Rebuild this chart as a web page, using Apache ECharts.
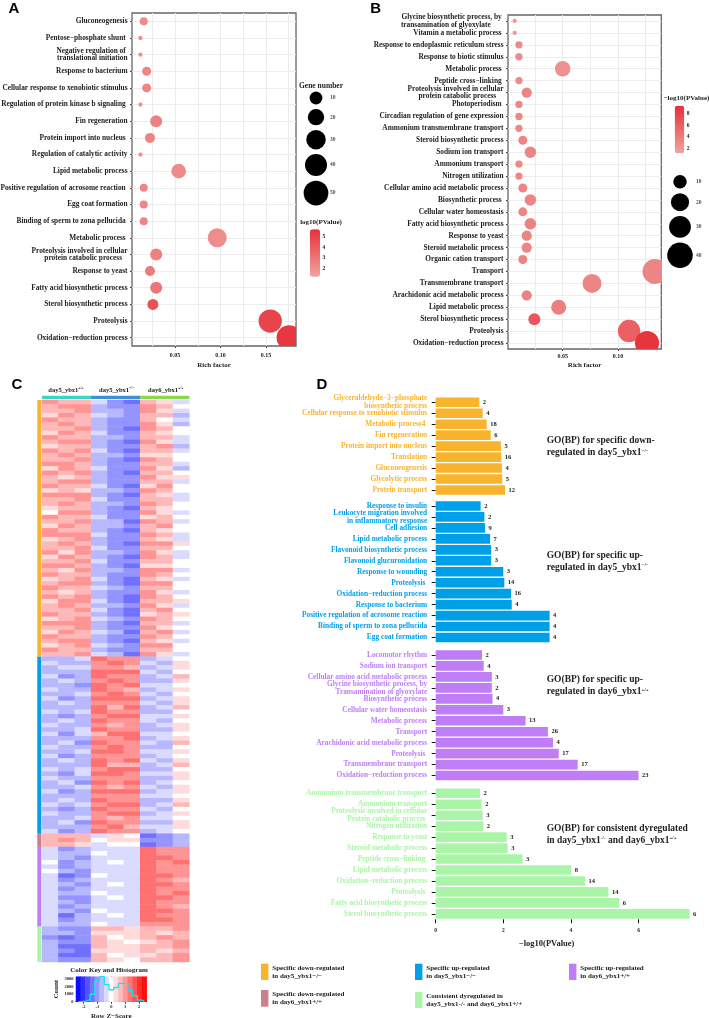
<!DOCTYPE html>
<html><head><meta charset="utf-8">
<style>html,body{margin:0;padding:0;background:#fff}#c{width:709px;height:1018px;filter:blur(.35px)}</style>
<script src="https://cdn.jsdelivr.net/npm/echarts@6/dist/echarts.min.js"></script>
</head><body><div id="c"></div>
<script>
// ---------- Panel A ----------
const categoriesA = ["Gluconeogenesis","Pentose−phosphate shunt ","Negative regulation of \ntranslational initiation","Response to bacterium","Cellular response to xenobiotic stimulus","Regulation of protein kinase b signaling ","Fin regeneration","Protein import into nucleus ","Regulation of catalytic activity","Lipid metabolic process","Positive regulation of acrosome reaction ","Egg coat formation","Binding of sperm to zona pellucida ","Metabolic process ","Proteolysis involved in cellular\nprotein catabolic process   ","Response to yeast","Fatty acid biosynthetic process","Sterol biosynthetic process","Proteolysis","Oxidation−reduction process"];
const richA = [0.0156,0.012,0.012,0.0188,0.0188,0.012,0.0293,0.0225,0.012,0.054,0.0156,0.0156,0.0156,0.0964,0.0293,0.0225,0.0293,0.0257,0.1547,0.1754];
const genesA = [4,3,3,5,5,3,8,6,3,15,4,4,4,28,8,6,8,7,45,51];
const logpA = [2.2,2.0,2.0,2.4,2.4,2.1,2.6,2.5,2.1,2.2,2.4,2.4,2.4,2.1,2.6,2.8,3.0,4.4,4.9,5.4];
const legendGenesA = [10,20,30,40,50];
const richTicks = [0.05,0.10,0.15];
const richMinorA = [0.025,0.05,0.075,0.10,0.125,0.15,0.175];
// ---------- Panel B ----------
const categoriesB = ["Glycine biosynthetic process, by \ntransamination of glyoxylate       ","Vitamin a metabolic process ","Response to endoplasmic reticulum stress","Response to biotic stimulus","Metabolic process ","Peptide cross−linking ","Proteolysis involved in cellular\nprotein catabolic process    ","Photoperiodism ","Circadian regulation of gene expression","Ammonium transmembrane transport","Steroid biosynthetic process","Sodium ion transport","Ammonium transport","Nitrogen utilization","Cellular amino acid metabolic process","Biosynthetic process ","Cellular water homeostasis","Fatty acid biosynthetic process","Response to yeast","Steroid metabolic process","Organic cation transport","Transport","Transmembrane transport","Arachidonic acid metabolic process","Lipid metabolic process","Sterol biosynthetic process","Proteolysis","Oxidation−reduction process"];
const richB = [0.0066,0.0066,0.0105,0.0105,0.05,0.0105,0.0175,0.0105,0.0105,0.0105,0.014,0.0208,0.0105,0.0105,0.014,0.0208,0.014,0.0208,0.0175,0.0175,0.014,0.1334,0.0765,0.0175,0.0464,0.0244,0.11,0.1262];
const genesB = [2,2,3,3,14,3,5,3,3,3,4,6,3,3,4,6,4,6,5,5,4,38,22,5,13,7,32,36];
const logpB = [2.2,2.0,3.0,3.0,2.6,3.0,3.4,3.2,3.2,3.2,3.4,3.4,3.2,3.2,3.4,3.4,3.4,3.6,3.4,3.4,3.6,3.4,3.4,3.6,3.8,6.6,6.0,9.0];
const legendGenesB = [10,20,30,40];
const richMinorB = [0.025,0.05,0.075,0.10,0.125];
// ---------- Panel C (one digit per cell: 0 deep blue, 5 white, 9 strong red) ----------
const sampleLabels = ["day5_ybx1","day5_ybx1","day6_ybx1"];
const sampleSup = ["+/+","−/−","+/+"];
const heatOrange = ["877421764","788322875","778332864","687432773","877322754","787322863","778321875","687422765","877332774","788321864","677322783","878421774","787332665","778321875","887322774","687422863","878321775","767322866","788322774","877421685","676332875","888321764","778422774","787332875","677321765","588322864","877422675","778331874","687332785","877321765","888422874","678322764","787321886","778422775","868332864","687321874","778422775","887321665","768332884","877322875","678421764","788321885","877432775","767322864","878321875","688421776","787332864","778421785","877321676","678432875","888321774","778322865","687431784","877322875","788321764","678432885","877322775","778431864"];
const heatBlue = ["334988345","433898436","344887346","333999435","423988347","343898336","332989445","433987346","334898435","423999346","343888436","333979347","434988335","323899446","343988435","433878346","334988336","424799445","333889346","342988437","433898335","334998446","423888345","343989436","333977347","434899335","324998446","433888336","342989345","334878436","423999346","333888445","343988336","434899347","323988435","433899346","334878445","342988336","333897446","423988345"];
const heatRose = ["777465123","787566223","776455123"];
const heatPurple = ["423444988","433544988","432444998","523454989","423444988","532444988","412544998","423444987","432454998","423444988","433544989","422454998","432444988","423444987","432544998","413454988","423444998","433544888"];
const heatGreen = ["322776778","332666767","212756787","322765678","311766778","321666767","311756678","322765778"];
const keyBins = [-2.38,-2.04,-1.7,-1.36,-1.02,-0.68,-0.34,0,0.34,0.68,1.02,1.36,1.7,2.04,2.38];
const keyCounts = [0,30,200,1000,2800,3350,2300,1600,1900,2450,2450,1500,800,200,50];
const keyXTicks = [-2,-1,0,1,2];
const keyYTicks = [0,1000,2000,3000];
const groupNames = ["Specific down-regulated\nin day5_ybx1−/−","Specific up-regulated\nin day5_ybx1−/−","Specific down-regulated\nin day6_ybx1+/+","Specific up-regulated\nin day6_ybx1+/+","Consistent dyregulated in\nday5_ybx1-/- and day6_ybx1+/+"];
// ---------- Panel D ----------
const labelsD1 = ["Glyceraldehyde−3−phosphate\nbiosynthetic process","Cellular response to xenobiotic stimulus","Metabolic process4 ","Fin regeneration","Protein import into nucleus","Translation","Gluconeogenesis","Glycolytic process","Protein transport"];
const valuesD1 = [1.29,1.39,1.51,1.63,1.93,1.94,1.96,1.97,2.05];
const countsD1 = [2,4,18,6,5,16,4,5,12];
const labelsD2 = ["Response to insulin","Leukocyte migration involved\nin inflammatory response","Cell adhesion","Lipid metabolic process","Flavonoid biosynthetic process","Flavonoid glucuronidation","Response to wounding","Proteolysis ","Oxidation−reduction process","Response to bacterium","Positive regulation of acrosome reaction","Binding of sperm to zona pellucida","Egg coat formation"];
const valuesD2 = [1.33,1.44,1.46,1.61,1.64,1.64,2.0,2.03,2.23,2.25,3.37,3.37,3.37];
const countsD2 = [2,2,9,7,3,3,3,14,16,4,4,4,4];
const labelsD3 = ["Locomotor rhythm","Sodium ion transport","Cellular amino acid metabolic process","Glycine biosynthetic process, by\nTransamination of glyoxylate","Biosynthetic process","Cellular water homeostasis","Metabolic process","Transport","Arachidonic acid metabolic process","Proteolysis ","Transmembrane transport","Oxidation−reduction process"];
const valuesD3 = [1.37,1.42,1.66,1.66,1.68,2.0,2.66,3.32,3.47,3.64,4.2,6.0];
const countsD3 = [2,4,3,2,4,3,13,26,4,17,17,23];
const labelsD4 = ["Ammonium transmembrane transport","Ammonium transport","Proteolysis involved in cellular\nProtein catabolic process ","Nitrogen utilization","Response to yeast","Steroid metabolic process","Peptide cross−linking ","Lipid metabolic process","Oxidation−reduction process","Proteolysis ","Fatty acid biosynthetic process","Sterol biosynthetic process"];
const valuesD4 = [1.31,1.36,1.39,1.41,2.10,2.13,2.57,4.01,4.42,5.11,5.43,7.51];
const countsD4 = [2,2,3,2,3,3,3,8,14,14,6,6];
const ticksD = [0,2,4,6];

// ---------- styling ----------
const SERIF = '"Liberation Serif","Times New Roman",serif';
const SANS = '"Liberation Sans",Arial,sans-serif';
const INK = '#222';
const ORANGE='#F9B42D', BLUE='#00A0E9', PURPLE='#BF7DF6', GREEN='#ABF5A8', ROSE='#C9808C';
const LOW='#EFA5A1', HIGH='#E72F38';
const LABEL_SIZE=7.35;
const sizeStopsA = [[3,4.3],[4,8],[6,10],[8,12],[15,14.7],[28,19],[45,23.3],[51,25]];
const sizeStopsB = [[2,4.3],[3,7.3],[4,9],[6,11.5],[14,15.5],[22,19],[32,22.5],[38,25],[40,25.5]];
function sizeOf(stops,g){
  for(let i=1;i<stops.length;i++){
    if(g<=stops[i][0]){const a=stops[i-1],b=stops[i];return a[1]+(b[1]-a[1])*(g-a[0])/(b[0]-a[0]);}
  }
  return stops[stops.length-1][1];
}
const grid=[],xAxis=[],yAxis=[],series=[],visualMap=[],graphic=[];
function addGrid(l,t,w,h,extra){grid.push(Object.assign({left:l,top:t,width:w,height:h,containLabel:false,outerBoundsMode:'none'},extra||{}));return grid.length-1;}
function text(s,x,y,size,opt){
  opt=opt||{};
  graphic.push({type:'text',x:x,y:y,z:50,silent:true,style:{text:s,fill:opt.color||INK,fontFamily:opt.family||SERIF,fontWeight:'bold',fontSize:size,align:opt.align||'left',verticalAlign:opt.va||'middle',lineHeight:opt.lh,rich:opt.rich}});
}
function rect(x,y,w,h,c){graphic.push({type:'rect',z:50,silent:true,shape:{x:x,y:y,width:w,height:h},style:{fill:c}});}

function bubblePanel(cfg){
  const g=addGrid(cfg.l,cfg.t,cfg.w,cfg.h,{show:true,backgroundColor:'#fff',borderColor:'#666',borderWidth:1.3});
  const ax=xAxis.length;
  xAxis.push({gridIndex:g,type:'value',min:cfg.xmin,max:cfg.xmax,axisLine:{show:false},axisLabel:{show:false},
    axisTick:{show:false,customValues:cfg.minor},splitLine:{show:true,lineStyle:{color:'#ECECEC',width:1}}});
  xAxis.push({gridIndex:g,type:'value',position:'bottom',min:cfg.xmin,max:cfg.xmax,axisLine:{show:false},
    axisTick:{show:true,length:2,customValues:richTicks,lineStyle:{color:'#444'}},
    axisLabel:{customValues:richTicks,formatter:v=>v.toFixed(2),fontSize:6,margin:cfg.lm,fontFamily:SERIF,fontWeight:'bold',color:INK},
    splitLine:{show:false},name:'Rich factor',nameLocation:'middle',nameGap:cfg.ng,nameTextStyle:{fontSize:7,fontFamily:SERIF,fontWeight:'bold',color:INK}});
  const ay=yAxis.length;
  yAxis.push({gridIndex:g,type:'category',inverse:true,data:cfg.cats,axisLine:{show:false},
    axisTick:{show:true,length:2,alignWithLabel:true,lineStyle:{color:'#444'}},
    splitLine:{show:true,alignWithLabel:true,lineStyle:{color:'#ECECEC',width:1.2}},
    axisLabel:{interval:0,fontSize:LABEL_SIZE,lineHeight:7.5,margin:4.5,fontFamily:SERIF,fontWeight:'bold',color:INK,hideOverlap:false}});
  const si=series.length;
  // custom series so that the bubbles are really clipped at the panel frame
  series.push({type:'custom',xAxisIndex:ax,yAxisIndex:ay,clip:true,z:3,silent:true,
    encode:{x:0,y:1},
    data:cfg.rich.map((r,i)=>[r,i,cfg.genes[i],cfg.logp[i]]),
    renderItem:function(params,api){
      const p=api.coord([api.value(0),api.value(1)]);
      return {type:'circle',shape:{cx:p[0],cy:p[1],r:sizeOf(cfg.stops,api.value(2))/2},style:{fill:api.visual('color')}};
    }});
  visualMap.push({type:'continuous',seriesIndex:si,dimension:3,min:cfg.pmin,max:cfg.pmax,inRange:{color:[LOW,HIGH]},
    left:cfg.bar[0],top:cfg.bar[1],itemWidth:cfg.bar[2],itemHeight:cfg.bar[3],padding:0,calculable:false,realtime:false,text:null,
    textStyle:{fontSize:1,color:'transparent'}});
  // colour-bar ticks
  const cg=addGrid(cfg.bar[0],cfg.bar[1],cfg.bar[2],cfg.bar[3]);
  xAxis.push({gridIndex:cg,type:'value',show:false,min:0,max:1});
  yAxis.push({gridIndex:cg,type:'value',position:'right',min:cfg.pmin,max:cfg.pmax,z:20,axisLine:{show:false},splitLine:{show:false},
    axisTick:{show:true,inside:true,length:2,customValues:cfg.barTicks,lineStyle:{color:'#fff',width:.8}},
    axisLabel:{customValues:cfg.barTicks,fontSize:5.5,margin:2.5,fontFamily:SERIF,fontWeight:'bold',color:INK}});
  series.push({type:'scatter',xAxisIndex:xAxis.length-1,yAxisIndex:yAxis.length-1,data:[],silent:true});
  // size legend: pixel-scaled hidden axes, spacing follows symbol sizes
  const ds=cfg.legend.map(v=>sizeOf(cfg.stops,v));
  const ys=[cfg.leg[1]];
  for(let i=1;i<ds.length;i++) ys.push(ys[i-1]+(ds[i-1]+ds[i])/2+cfg.leg[3]);
  const lg=addGrid(cfg.leg[0],0,60,1018);
  xAxis.push({gridIndex:lg,type:'value',show:false,min:0,max:60});
  yAxis.push({gridIndex:lg,type:'value',show:false,inverse:true,min:0,max:1018});
  series.push({type:'scatter',xAxisIndex:xAxis.length-1,yAxisIndex:yAxis.length-1,silent:true,
    data:cfg.legend.map((v,i)=>[15,ys[i],v]),symbolSize:v=>sizeOf(cfg.stops,v[2]),itemStyle:{color:'#000',opacity:1}});
  series.push({type:'scatter',xAxisIndex:xAxis.length-1,yAxisIndex:yAxis.length-1,silent:true,
    data:cfg.legend.map((v,i)=>[cfg.leg[2],ys[i],v]),symbolSize:0,
    label:{show:true,position:'right',distance:0,formatter:p=>p.data[2],fontSize:5.5,fontFamily:SERIF,fontWeight:'bold',color:INK}});
}

bubblePanel({l:132,t:13,w:164,h:333,xmin:0.0027,xmax:0.183,minor:richMinorA,lm:6,ng:16,cats:categoriesA,rich:richA,genes:genesA,logp:logpA,stops:sizeStopsA,
  pmin:1.2,pmax:5.7,bar:[310,229.3,10,47.4],barTicks:[2,3,4,5],legend:legendGenesA,leg:[301,98,29,4.6]});
bubblePanel({l:508,t:15,w:153.3,h:334,xmin:0.0006,xmax:0.1391,minor:richMinorB,lm:4,ng:13,cats:categoriesB,rich:richB,genes:genesB,logp:logpB,stops:sizeStopsB,
  pmin:1.2,pmax:9.4,bar:[674.7,105.7,9.6,47.6],barTicks:[2,4,6,8],legend:legendGenesB,leg:[665,181.7,31,4.7]});

text('Gene number',321,85.7,7.5,{align:'center'});
text('log10(PValue)',321,221.7,7,{align:'center'});
text('−log10(PValue)',686.5,98.3,7,{align:'center'});

// ---------- Panel C ----------
const heatBlocks=[heatOrange,heatBlue,heatRose,heatPurple,heatGreen];
const heatColors=[ORANGE,BLUE,ROSE,PURPLE,GREEN];
const heatRows=[].concat(...heatBlocks);
const heatData=[];
heatRows.forEach((row,r)=>{row.split('').forEach((d,c)=>{heatData.push([c,r,(+d-5)*0.35]);});});
const hg=addGrid(42,400,147.3,562);
xAxis.push({gridIndex:hg,type:'category',show:false,data:[0,1,2,3,4,5,6,7,8]});
yAxis.push({gridIndex:hg,type:'category',show:false,inverse:true,data:heatRows.map((_,i)=>i)});
const heatSi=series.length;
series.push({type:'heatmap',xAxisIndex:xAxis.length-1,yAxisIndex:yAxis.length-1,silent:true,data:heatData,itemStyle:{borderWidth:0}});
// column colour band
const tg=addGrid(42,395.7,147.3,3.4);
xAxis.push({gridIndex:tg,type:'value',show:false,min:0,max:3});
yAxis.push({gridIndex:tg,type:'category',show:false,data:['a']});
['#3DD3C6','#3F8FD8','#8BD84B'].forEach(c=>{
  series.push({type:'bar',stack:'top',xAxisIndex:xAxis.length-1,yAxisIndex:yAxis.length-1,barWidth:'100%',silent:true,data:[1],itemStyle:{color:c}});
});
// row group band
const lgr=addGrid(37.3,400,4,562);
xAxis.push({gridIndex:lgr,type:'category',show:false,data:['a']});
yAxis.push({gridIndex:lgr,type:'value',show:false,inverse:true,min:0,max:heatRows.length});
heatBlocks.forEach((b,i)=>{
  series.push({type:'bar',stack:'left',xAxisIndex:xAxis.length-1,yAxisIndex:yAxis.length-1,barWidth:'100%',silent:true,data:[b.length],itemStyle:{color:heatColors[i]}});
});
sampleLabels.forEach((s,i)=>{
  text('{n|'+s+'}{s|'+sampleSup[i]+'}',[66,116.7,165.7][i],390,6.5,{align:'center',rich:{n:{fontSize:6.5,fontFamily:SERIF,fontWeight:'bold',fill:INK},s:{fontSize:3.8,fontFamily:SERIF,fontWeight:'bold',fill:INK,verticalAlign:'top'}}});
});
// colour key
const kg=addGrid(76,976.7,70.7,25);
xAxis.push({gridIndex:kg,type:'category',show:false,data:keyBins});
yAxis.push({gridIndex:kg,type:'category',show:false,data:['k']});
const keySi=series.length;
series.push({type:'heatmap',xAxisIndex:xAxis.length-1,yAxisIndex:yAxis.length-1,silent:true,data:keyBins.map((z,i)=>[i,0,z]),itemStyle:{borderWidth:0}});
visualMap.push({type:'continuous',show:false,seriesIndex:[heatSi,keySi],dimension:2,min:-2.5,max:2.5,inRange:{color:['#0000ff','#ffffff','#ff0000']}});
const kg2=addGrid(76,976.7,70.7,25);
xAxis.push({gridIndex:kg2,type:'value',min:-2.55,max:2.55,axisLine:{show:true,lineStyle:{color:'#000',width:.8}},splitLine:{show:false},
  axisTick:{show:true,length:2,customValues:keyXTicks,lineStyle:{color:'#000',width:.8}},
  axisLabel:{customValues:keyXTicks,fontSize:4.5,margin:3,fontFamily:SERIF,fontWeight:'bold',color:INK},
  name:'Row Z−Score',nameLocation:'middle',nameGap:11,nameTextStyle:{fontSize:7,fontFamily:SERIF,fontWeight:'bold',color:INK}});
yAxis.push({gridIndex:kg2,type:'value',min:0,max:3350,axisLine:{show:true,lineStyle:{color:'#000',width:.8}},splitLine:{show:false},
  axisTick:{show:true,length:2,customValues:keyYTicks,lineStyle:{color:'#000',width:.8}},
  axisLabel:{customValues:keyYTicks,formatter:v=>String(v),fontSize:4.5,margin:2.5,fontFamily:SERIF,fontWeight:'bold',color:INK},
  name:'Count',nameLocation:'middle',nameGap:16,nameRotate:90,nameTextStyle:{fontSize:7,fontFamily:SERIF,fontWeight:'bold',color:INK}});
series.push({type:'line',step:'middle',xAxisIndex:xAxis.length-1,yAxisIndex:yAxis.length-1,silent:true,z:5,symbol:'none',
  data:keyBins.map((z,i)=>[z,keyCounts[i]]),lineStyle:{color:'#12E6F0',width:1.3}});
text('Color Key and Histogram',109,970,7,{align:'center'});

// ---------- Panel D ----------
function barGroup(top,labels,values,counts,color,last){
  const g=addGrid(435.7,top,256.9,labels.length*10.96);
  xAxis.push(last?{gridIndex:g,type:'value',min:0,max:7.6,axisLine:{show:false},splitLine:{show:false},
      axisTick:{show:true,length:4,customValues:ticksD,lineStyle:{color:'#111',width:1}},
      axisLabel:{customValues:ticksD,fontSize:5.5,margin:8,fontFamily:SERIF,fontWeight:'bold',color:INK},
      name:'−log10(PValue)',nameLocation:'middle',nameGap:20,nameMoveOverlap:false,nameTextStyle:{fontSize:8.5,fontFamily:SERIF,fontWeight:'bold',color:INK,padding:[0,35,0,0]}}
    :{gridIndex:g,type:'value',show:false,min:0,max:7.6});
  yAxis.push({gridIndex:g,type:'category',inverse:true,data:labels,axisLine:{show:false},splitLine:{show:false},
    axisTick:{show:true,length:4,alignWithLabel:true,lineStyle:{color:'#111',width:1}},
    axisLabel:{interval:0,fontSize:LABEL_SIZE,lineHeight:8,margin:8.5,fontFamily:SERIF,fontWeight:'bold',color:color,hideOverlap:false}});
  series.push({type:'bar',xAxisIndex:xAxis.length-1,yAxisIndex:yAxis.length-1,silent:true,barWidth:'88%',
    data:values.map((v,i)=>({value:v,count:counts[i]})),itemStyle:{color:color},
    label:{show:true,position:'right',distance:3.5,formatter:p=>p.data.count,fontSize:6.5,fontFamily:SERIF,fontWeight:'bold',color:INK}});
}
barGroup(396.8,labelsD1,valuesD1,countsD1,ORANGE,false);
barGroup(500.5,labelsD2,valuesD2,countsD2,BLUE,false);
barGroup(649.5,labelsD3,valuesD3,countsD3,PURPLE,false);
barGroup(787.8,labelsD4,valuesD4,countsD4,GREEN,true);

function goText(x,y,parts){
  text(parts,x,y,9.5,{rich:{n:{fontSize:9.5,fontFamily:SERIF,fontWeight:'bold',fill:INK},s:{fontSize:5,fontFamily:SERIF,fontWeight:'bold',fill:INK,verticalAlign:'top'}}});
}
goText(546.7,440.7,'{n|GO(BP) for specific down-}');
goText(546.7,453,'{n|regulated in day5_ybx1}{s|−/−}');
goText(546.7,555.7,'{n|GO(BP) for specific up-}');
goText(546.7,567.7,'{n|regulated in day5_ybx1}{s|−/−}');
goText(546.7,680,'{n|GO(BP) for specific up-}');
goText(546.7,692,'{n|regulated in day6_ybx1}{s|+/+}');
goText(546.7,829,'{n|GO(BP) for consistent dyregulated}');
goText(546.7,840.7,'{n|in day5_ybx1}{s|-/-}{n| and day6_ybx1}{s|+/+}');

// bottom legend
const legendKeys=[[261,963.7,16.3,0,ORANGE],[415,963.7,16.3,1,BLUE],[569,963.7,16.3,3,PURPLE],[261,990,16.7,2,ROSE],[415,992,16,4,GREEN]];
legendKeys.forEach(k=>{
  rect(k[0],k[1],7.4,k[2],k[4]);
  const rows=groupNames[k[3]].split('\n');
  text(rows[0],k[0]+11.3,k[1]+4,7);
  text(rows[1],k[0]+11.3,k[1]+12.4,7);
});

// panel letters
[['A',14,9],['B',375.7,9],['C',17,385],['D',322,385]].forEach(p=>text(p[0],p[1],p[2],15,{family:SANS,color:'#000',align:'center'}));

const chart=echarts.init(document.getElementById('c'),null,{renderer:'canvas',width:709,height:1018});
chart.setOption({animation:false,backgroundColor:'#fff',grid:grid,xAxis:xAxis,yAxis:yAxis,series:series,visualMap:visualMap,graphic:graphic,tooltip:{show:false}});
</script></body></html>
